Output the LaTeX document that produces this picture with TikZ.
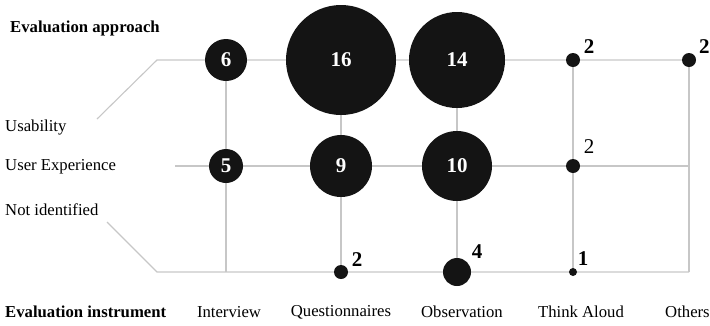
\documentclass[tikz,border=0pt]{standalone}
\usepackage{fontspec}
\setmainfont{Liberation Serif}
\usepackage{tikz}
\usetikzlibrary{positioning}

\begin{document}
\begin{tikzpicture}[x=1pt,y=-1pt,
  grid/.style={draw=black!22,line width=1.1pt},
  bubble/.style={circle,fill=black!92,inner sep=0pt,text=white,font=\fontsize{21}{21}\selectfont\bfseries},
  count/.style={inner sep=0pt,font=\fontsize{21}{21}\selectfont\bfseries},
  countlight/.style={inner sep=0pt,font=\fontsize{21}{21}\selectfont},
  lbl/.style={inner sep=0pt,font=\fontsize{16.7}{18}\selectfont}]
\useasboundingbox (0,0) rectangle (710,325);
% grid points: columns interview, questionnaires, observation, think aloud, others
\foreach \c/\x in {int/226,que/341,obs/457,tha/573,oth/689}{
  \coordinate (\c-u) at (\x,60);
  \coordinate (\c-x) at (\x,166);
  \coordinate (\c-n) at (\x,272);
}
\coordinate (u-start) at (157,60);
\coordinate (u-end) at (97,119);
\coordinate (x-start) at (175,166);
\coordinate (n-start) at (157,272);
\coordinate (n-end) at (107,222);
% lines
\draw[grid] (u-end) -- (u-start) -- (oth-u);
\draw[grid] (x-start) -- (oth-x);
\draw[grid] (n-end) -- (n-start) -- (oth-n);
\foreach \c in {int,que,obs,tha,oth}
  \draw[grid] (\c-u) -- (\c-n);
% bubbles
\node[bubble,minimum size=42pt] (b-int-u) at (int-u) {6};
\node[bubble,minimum size=110pt] (b-que-u) at (que-u) {16};
\node[bubble,minimum size=96pt] (b-obs-u) at (obs-u) {14};
\node[bubble,minimum size=14pt] (b-tha-u) at (tha-u) {};
\node[bubble,minimum size=14pt] (b-oth-u) at (oth-u) {};
\node[bubble,minimum size=34pt] (b-int-x) at (int-x) {5};
\node[bubble,minimum size=62pt] (b-que-x) at (que-x) {9};
\node[bubble,minimum size=70pt] (b-obs-x) at (obs-x) {10};
\node[bubble,minimum size=14pt] (b-tha-x) at (tha-x) {};
\node[bubble,minimum size=14pt] (b-que-n) at (que-n) {};
\node[bubble,minimum size=28pt] (b-obs-n) at (obs-n) {};
\node[bubble,minimum size=8pt] (b-tha-n) at (tha-n) {};
% counts beside the small bubbles
\node[count] (c-tha-u) at (589,47) {2};
\node[count,anchor=west] (c-oth-u) at (699,47) {2};
\node[countlight] (c-tha-x) at (589,147) {2};
\node[count] (c-que-n) at (357,260) {2};
\node[count] (c-obs-n) at (477,252) {4};
\node[count] (c-tha-n) at (583,259) {1};
% row and column labels
\node[lbl,anchor=west,font=\fontsize{16.7}{18}\selectfont\bfseries] (approach) at (10,28) {Evaluation approach};
\node[lbl,anchor=west] (usab) at (5,128) {Usability};
\node[lbl,anchor=west] (ux) at (5,167) {User Experience};
\node[lbl,anchor=west] (notid) at (5,210) {Not identified};
\node[lbl,anchor=west,font=\fontsize{16.7}{18}\selectfont\bfseries] (instr) at (5,312) {Evaluation instrument};
\node[lbl] (l-int) at (229,312) {Interview};
\node[lbl] (l-que) at (341,312) {Questionnaires};
\node[lbl] (l-obs) at (462,312) {Observation};
\node[lbl] (l-tha) at (581,312) {Think Aloud};
\node[lbl,anchor=west] (l-oth) at (665,312) {Others};
\end{tikzpicture}
\end{document}
